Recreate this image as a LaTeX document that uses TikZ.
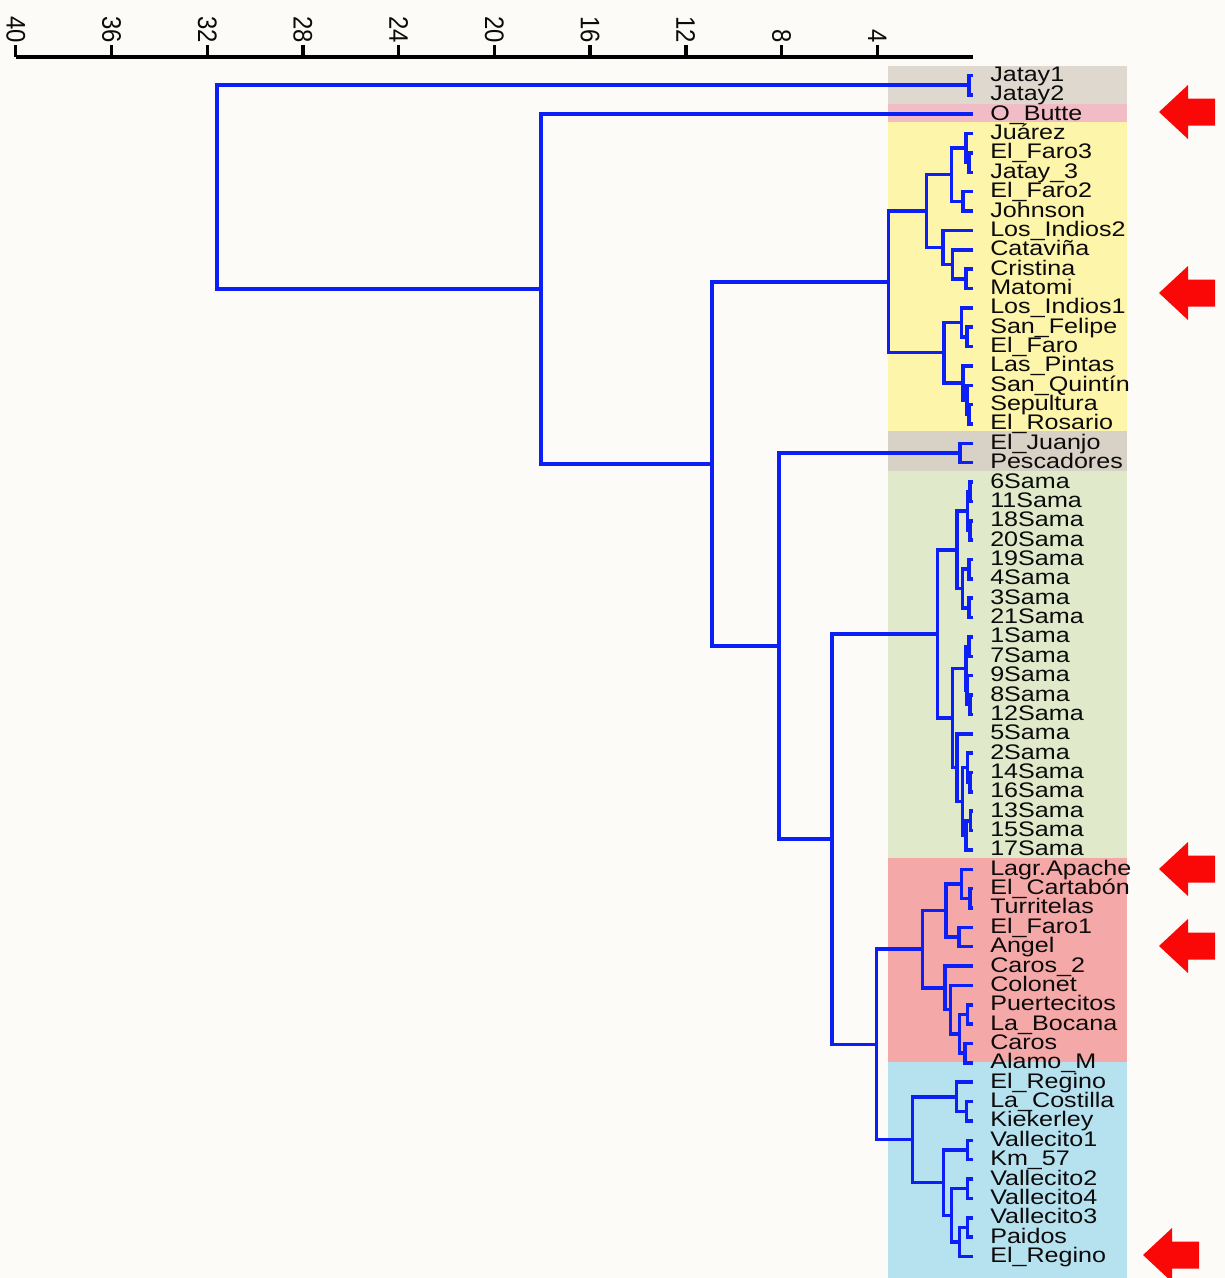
\documentclass[tikz,border=0pt]{standalone}
\usepackage{fontspec}
\setmainfont{Liberation Sans}
\usepackage{graphicx}
\usetikzlibrary{calc}

\definecolor{paper}{RGB}{253,251,247}
\definecolor{branchblue}{RGB}{12,32,245}
\definecolor{ink}{RGB}{12,10,10}
\definecolor{markred}{RGB}{250,8,8}
\definecolor{bandgray}{RGB}{222,216,206}
\definecolor{bandpink}{RGB}{242,188,198}
\definecolor{bandyellow}{RGB}{252,245,170}
\definecolor{bandgraymid}{RGB}{216,210,198}
\definecolor{bandgreen}{RGB}{224,234,202}
\definecolor{bandred}{RGB}{245,168,168}
\definecolor{bandblue}{RGB}{182,226,240}

% join two clusters #3 and #4 into cluster #1 at horizontal position #2
\newcommand\mrg[4]{%
  \coordinate (#1m) at ($(#3)!0.5!(#4)$);
  \coordinate (#1) at (#2,0 |- #1m);
  \draw[branch] (#3) -| (#1) |- (#4);
}
% left-pointing block arrow with its tip at (#1,#2)
\newcommand\marker[2]{%
  \fill[markred] (#1,#2) -- ++(29,-27) -- ++(0,13.5) -- ++(27,0) -- ++(0,27)
    -- ++(-27,0) -- ++(0,13.5) -- cycle;
}

\begin{document}
\begin{tikzpicture}[x=0.025cm,y=-0.025cm,
  branch/.style={draw=branchblue, line width=2.5pt},
  axisline/.style={draw=black, line width=2.4pt},
  leaflabel/.style={anchor=base west, inner sep=0pt, text=ink,
    font=\fontsize{15}{15}\selectfont},
  ticklabel/.style={rotate=-90, anchor=east, inner sep=0pt, text=ink,
    font=\fontsize{17}{17}\selectfont}]

\fill[paper] (0,0) rectangle (1225,1278);
\useasboundingbox (0,0) rectangle (1225,1278);

% group bands behind the labels
\fill[bandgray]    (888,66)   rectangle (1127,104);
\fill[bandpink]    (888,104)  rectangle (1127,122);
\fill[bandyellow]  (888,122)  rectangle (1127,431);
\fill[bandgraymid] (888,431)  rectangle (1127,471);
\fill[bandgreen]   (888,471)  rectangle (1127,858);
\fill[bandred]     (888,858)  rectangle (1127,1062);
\fill[bandblue]    (888,1062) rectangle (1127,1278);

% distance axis
\draw[axisline] (15.8,57) -- (973,57);
\foreach \v in {40,36,...,4} {
  \pgfmathsetmacro\xx{973-23.93*\v}
  \draw[axisline] (\xx,57) -- (\xx,45);
  \node[ticklabel] (tick\v) at (\xx,43) {\scalebox{1}[1.12]{\v}};
}

% leaves
\foreach \nm [count=\i] in {Jatay1,Jatay2,O\_Butte,Juárez,El\_Faro3,Jatay\_3,
  El\_Faro2,Johnson,Los\_Indios2,Cataviña,Cristina,Matomi,Los\_Indios1,
  San\_Felipe,El\_Faro,Las\_Pintas,San\_Quintín,Sepultura,El\_Rosario,
  El\_Juanjo,Pescadores,6Sama,11Sama,18Sama,20Sama,19Sama,4Sama,3Sama,
  21Sama,1Sama,7Sama,9Sama,8Sama,12Sama,5Sama,2Sama,14Sama,16Sama,13Sama,
  15Sama,17Sama,Lagr.Apache,El\_Cartabón,Turritelas,El\_Faro1,Angel,
  Caros\_2,Colonet,Puertecitos,La\_Bocana,Caros,Alamo\_M,El\_Regino,
  La\_Costilla,Kiekerley,Vallecito1,Km\_57,Vallecito2,Vallecito4,
  Vallecito3,Paidos,El\_Regino} {
  \pgfmathsetmacro\yy{75.5+19.36*(\i-1)}
  \coordinate (l\i) at (973,\yy);
  \node[leaflabel] (t\i) at (990,{\yy+6}) {\scalebox{1.19}[1]{\nm}};
}

% Jatay pair
\mrg{a1}{969}{l1}{l2}
% yellow group
\mrg{y1}{969}{l5}{l6}
\mrg{y2}{966}{l4}{y1}
\mrg{y3}{963}{l7}{l8}
\mrg{y4}{951.7}{y2}{y3}
\mrg{y5}{966}{l11}{l12}
\mrg{y6}{952.7}{l10}{y5}
\mrg{y7}{943}{l9}{y6}
\mrg{y8}{926.7}{y4}{y7}
\mrg{y9}{967}{l14}{l15}
\mrg{y10}{961.7}{l13}{y9}
\mrg{y11}{969}{l18}{l19}
\mrg{y12}{967}{l17}{y11}
\mrg{y13}{963}{l16}{y12}
\mrg{y14}{944}{y10}{y13}
\mrg{y15}{888.3}{y8}{y14}
% El Juanjo / Pescadores
\mrg{j1}{960}{l20}{l21}
% Sama group
\mrg{s1}{970}{l22}{l23}
\mrg{s2}{970}{l24}{l25}
\mrg{s3}{967.7}{s1}{s2}
\mrg{s4}{969}{l26}{l27}
\mrg{s5}{969}{l28}{l29}
\mrg{s6}{962.5}{s4}{s5}
\mrg{s7}{957}{s3}{s6}
\mrg{s8}{969}{l30}{l31}
\mrg{s9}{970}{l33}{l34}
\mrg{s10}{967}{l32}{s9}
\mrg{s11}{966}{s8}{s10}
\mrg{s12}{970}{l37}{l38}
\mrg{s13}{967.5}{l36}{s12}
\mrg{s14}{970.5}{l39}{l40}
\mrg{s15}{966}{s14}{l41}
\mrg{s16}{962.7}{s13}{s15}
\mrg{s17}{957}{l35}{s16}
\mrg{s18}{952.7}{s11}{s17}
\mrg{s19}{937.3}{s7}{s18}
% red group
\mrg{r1}{970}{l43}{l44}
\mrg{r2}{961.7}{l42}{r1}
\mrg{r3}{959}{l45}{l46}
\mrg{r4}{946}{r2}{r3}
\mrg{r5}{967.3}{l49}{l50}
\mrg{r6}{965}{l51}{l52}
\mrg{r7}{959.3}{r5}{r6}
\mrg{r8}{950.7}{l48}{r7}
\mrg{r9}{945}{l47}{r8}
\mrg{r10}{922.3}{r4}{r9}
% blue group
\mrg{b1}{966.7}{l54}{l55}
\mrg{b2}{956.7}{l53}{b1}
\mrg{b3}{967.3}{l56}{l57}
\mrg{b4}{967.3}{l58}{l59}
\mrg{b5}{967.3}{l60}{l61}
\mrg{b6}{959.3}{b5}{l62}
\mrg{b7}{951.7}{b4}{b6}
\mrg{b8}{943.3}{b3}{b7}
\mrg{b9}{912.7}{b2}{b8}
% upper levels
\mrg{rb}{876.7}{r10}{b9}
\mrg{c4}{832}{s19}{rb}
\mrg{c3}{779}{j1}{c4}
\mrg{c2}{712}{y15}{c3}
\mrg{c1}{541}{l3}{c2}
\mrg{root}{217}{a1}{c1}

% highlighted rows
\marker{1159}{112}
\marker{1159}{293}
\marker{1159}{869}
\marker{1159}{946}
\marker{1143}{1255}

\end{tikzpicture}
\end{document}
